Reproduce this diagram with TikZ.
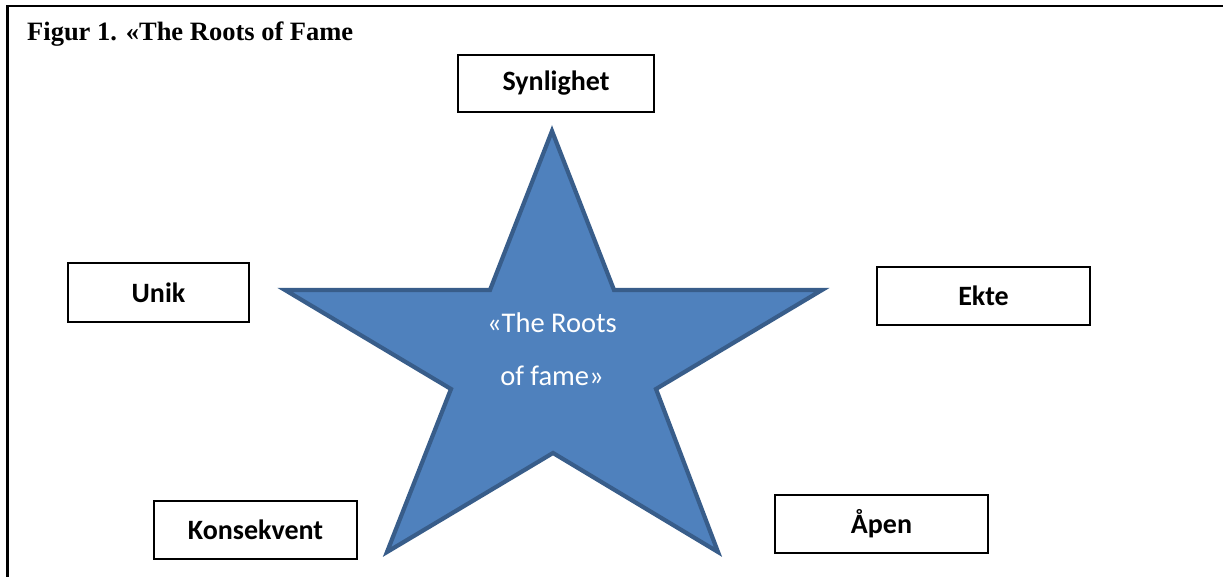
\documentclass[tikz,border=0pt]{standalone}
\usepackage{fontspec}
\setmainfont{Liberation Serif}
\newfontfamily\calfont{Carlito}
\definecolor{starfill}{HTML}{4F81BD}
\definecolor{starline}{HTML}{385D8A}
\tikzset{
  labelbox/.style={draw=black, line width=2pt, fill=white, inner sep=0pt, font=\calfont\bfseries\fontsize{28}{34}\selectfont},
  startext/.style={text=white, inner sep=0pt, anchor=base, font=\calfont\fontsize{28.5}{34}\selectfont},
}
\begin{document}
\begin{tikzpicture}[x=1pt,y=-1pt]
\useasboundingbox (0,0) rectangle (1223,577);
% frame
\coordinate (fa) at (7.5,577);
\coordinate (fb) at (7.5,6.3);
\coordinate (fc) at (1223,6.3);
\draw[line width=2.4pt] (fa) -- (fb) -- (fc);
% title
\node[anchor=base west, inner sep=0pt, font=\bfseries\fontsize{26.5}{30}\selectfont] (title) at (27,40.5) {Figur 1. «The Roots of Fame};
% star
\coordinate (s1) at (552,131);
\coordinate (s2) at (614,290);
\coordinate (s3) at (822,290);
\coordinate (s4) at (656,389);
\coordinate (s5) at (718,552);
\coordinate (s6) at (553,453);
\coordinate (s7) at (387,552);
\coordinate (s8) at (451,389);
\coordinate (s9) at (285,290);
\coordinate (s10) at (490,290);
\draw[fill=starfill, draw=starline, line width=4.2pt, line join=miter]
  (s1) -- (s2) -- (s3) -- (s4) -- (s5) -- (s6) -- (s7) -- (s8) -- (s9) -- (s10) -- cycle;
\node[startext] (st1) at (552,332) {«The Roots};
\node[startext] (st2) at (552,385) {of fame»};
% boxes
\node[labelbox, minimum width=196pt, minimum height=57pt] (syn) at (556,83.5) {Synlighet};
\node[labelbox, minimum width=181pt, minimum height=59pt] (unik) at (158.5,292.5) {Unik};
\node[labelbox, minimum width=213pt, minimum height=58pt] (ekte) at (983.5,296) {Ekte};
\node[labelbox, minimum width=203pt, minimum height=58pt] (kons) at (255.5,530) {Konsekvent};
\node[labelbox, minimum width=213pt, minimum height=58pt] (apen) at (881.5,524) {Åpen};
\end{tikzpicture}
\end{document}
